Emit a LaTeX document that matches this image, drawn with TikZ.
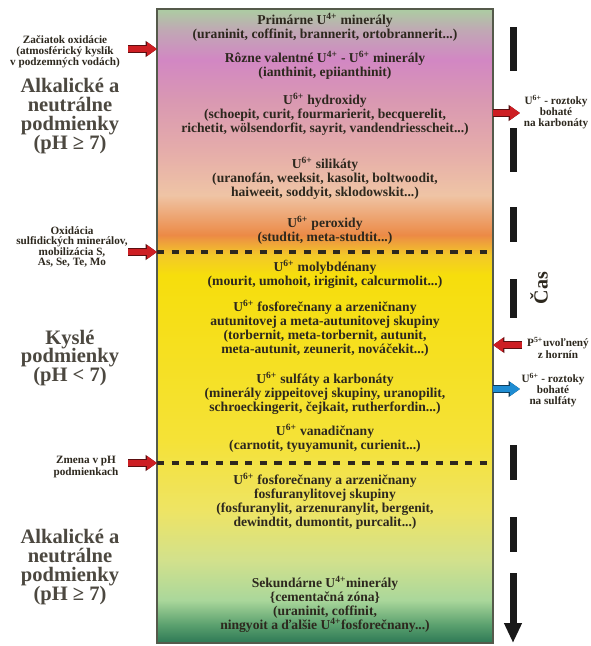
\documentclass[tikz,border=0pt]{standalone}
\usepackage{fontspec}
\setmainfont{Liberation Serif}
\usetikzlibrary{arrows.meta}

\definecolor{zoneTop}{RGB}{172, 205, 162}
\definecolor{zoneT}{RGB}{192, 168, 180}
\definecolor{zoneM}{RGB}{210, 135, 195}
\definecolor{zoneP2}{RGB}{217, 152, 178}
\definecolor{zoneP1}{RGB}{229, 172, 170}
\definecolor{zoneP0}{RGB}{239, 196, 165}
\definecolor{zoneO}{RGB}{236, 138, 70}
\definecolor{zoneY3}{RGB}{243, 200, 40}
\definecolor{zoneY2}{RGB}{246, 222, 12}
\definecolor{zoneY1}{RGB}{245, 226, 55}
\definecolor{zoneY0}{RGB}{238, 228, 100}
\definecolor{zoneG3}{RGB}{210, 225, 140}
\definecolor{zoneG2}{RGB}{170, 215, 155}
\definecolor{zoneG1}{RGB}{90, 160, 110}
\definecolor{zoneG0}{RGB}{45, 120, 85}
\definecolor{inktext}{RGB}{45, 40, 30}
\definecolor{arrowred}{RGB}{205, 30, 35}
\definecolor{arrowblue}{RGB}{30, 140, 210}
\definecolor{columnedge}{RGB}{85, 90, 75}

\pgfdeclareverticalshading{weathering}{100bp}{%
  color(0bp)=(zoneG0); color(25bp)=(zoneG0); color(26.42bp)=(zoneG1);
  color(28.39bp)=(zoneG2); color(31.55bp)=(zoneG3); color(35.49bp)=(zoneY0);
  color(41.01bp)=(zoneY1); color(54.02bp)=(zoneY2); color(55.6bp)=(zoneY3);
  color(57.18bp)=(zoneO); color(60.33bp)=(zoneP0); color(63.88bp)=(zoneP1);
  color(67.82bp)=(zoneP2); color(70.98bp)=(zoneM); color(73.34bp)=(zoneT);
  color(75bp)=(zoneTop); color(100bp)=(zoneTop)}

\newcommand\Uiv{U\textsuperscript{4+}}
\newcommand\Uvi{U\textsuperscript{6+}}
\newcommand\colfont{\fontsize{10.2}{10.5}\selectfont\bfseries}
\newcommand\notefont{\fontsize{8.4}{7.6}\selectfont\bfseries}
\newcommand\bigfont{\fontsize{15.4}{14.2}\selectfont\bfseries}

\begin{document}
\begin{tikzpicture}[x=0.75pt, y=-0.75pt,
    mintext/.style={font=\colfont, align=center, text=inktext, inner sep=0pt},
    note/.style={font=\notefont, align=center, text=inktext, inner sep=0pt},
    regime/.style={font=\bigfont, align=center, text=inktext!85, inner sep=0pt},
    fatarrow/.style={#1, line width=4.5pt, -{Triangle[width=10pt,length=7.5pt]},
      preaction={draw=#1!45!black, line width=5.5pt, -{Triangle[width=11.5pt,length=8.5pt]}}},
    zoneline/.style={line width=2.5pt, dash pattern=on 5.5pt off 5.5pt, inktext},
    timedash/.style={line width=5.25pt, black!90}]
  \useasboundingbox (0,0) rectangle (591,646);

  % Column of weathering zones
  \node[draw=columnedge, line width=1.2pt, shading=weathering,
        minimum width=252pt, minimum height=475.5pt,
        inner sep=0pt, outer sep=0pt] (col) at (325,326) {};

  % Boundaries of pH conditions
  \coordinate (oxidA) at (128,252);
  \coordinate (zmenaA) at (128,463);
  \draw[zoneline] (oxidA -| col.west) -- (oxidA -| col.east);
  \draw[zoneline] (zmenaA -| col.west) -- (zmenaA -| col.east);

  % Minerals in the column
  \node[mintext] (prim) at (325,27) {Primárne \Uiv{} minerály\\(uraninit, coffinit, brannerit, ortobrannerit...)};
  \node[mintext] (rozne) at (325,65) {Rôzne valentné \Uiv{} - \Uvi{} minerály\\(ianthinit, epiianthinit)};
  \node[mintext] (hydrox) at (325,114) {\Uvi{} hydroxidy\\(schoepit, curit, fourmarierit, becquerelit,\\richetit, wölsendorfit, sayrit, vandendriesscheit...)};
  \node[mintext] (silik) at (325,178) {\Uvi{} silikáty\\(uranofán, weeksit, kasolit, boltwoodit,\\haiweeit, soddyit, sklodowskit...)};
  \node[mintext] (perox) at (325,230) {\Uvi{} peroxidy\\(studtit, meta-studtit...)};
  \node[mintext] (molyb) at (325,274) {\Uvi{} molybdénany\\(mourit, umohoit, iriginit, calcurmolit...)};
  \node[mintext] (fosfA) at (325,328) {\Uvi{} fosforečnany a arzeničnany\\autunitovej a meta-autunitovej skupiny\\(torbernit, meta-torbernit, autunit,\\meta-autunit, zeunerit, nováčekit...)};
  \node[mintext] (sulf) at (325,393) {\Uvi{} sulfáty a karbonáty\\(minerály zippeitovej skupiny, uranopilit,\\schroeckingerit, čejkait, rutherfordin...)};
  \node[mintext] (vanad) at (325,438) {\Uvi{} vanadičnany\\(carnotit, tyuyamunit, curienit...)};
  \node[mintext] (fosfB) at (325,501) {\Uvi{} fosforečnany a arzeničnany\\fosfuranylitovej skupiny\\(fosfuranylit, arzenuranylit, bergenit,\\dewindtit, dumontit, purcalit...)};
  \node[mintext] (sekund) at (325,604) {Sekundárne \Uiv{}minerály\\\{cementačná zóna\}\\(uraninit, coffinit,\\ningyoit a ďalšie \Uiv{}fosforečnany...)};

  % Conditions on the left
  \node[note] (zac) at (65,52) {Začiatok oxidácie\\(atmosférický kyslík\\v podzemných vodách)};
  \node[regime] (alkA) at (70,116) {Alkalické a\\neutrálne\\podmienky\\(pH ≥ 7)};
  \node[note] (oxid) at (72,247) {Oxidácia\\sulfidických minerálov,\\mobilizácia S,\\As, Se, Te, Mo};
  \node[regime] (kysle) at (70,358) {Kyslé\\podmienky\\(pH < 7)};
  \node[note] (zmena) at (86,467) {Zmena v pH\\podmienkach};
  \node[regime] (alkB) at (70,567) {Alkalické a\\neutrálne\\podmienky\\(pH ≥ 7)};

  \coordinate (zacA) at (128,49);
  \draw[fatarrow=arrowred] (zacA) -- (zacA -| col.west);
  \draw[fatarrow=arrowred] (oxidA) -- (oxidA -| col.west);
  \draw[fatarrow=arrowred] (zmenaA) -- (zmenaA -| col.west);

  % Solutions on the right
  \node[note] (karb) at (556,112) {\Uvi{} - roztoky\\bohaté\\na karbonáty};
  \node[note] (pfive) at (558,348) {P\textsuperscript{5+}uvoľnený\\z hornín};
  \node[note] (sulfR) at (553,390) {\Uvi{} - roztoky\\bohaté\\na sulfáty};

  \coordinate (karbA) at (520,113);
  \coordinate (pfiveA) at (522,345);
  \coordinate (sulfA) at (520,389);
  \draw[fatarrow=arrowred] (karbA -| col.east) -- (karbA);
  \draw[fatarrow=arrowred] (pfiveA) -- (pfiveA -| col.east);
  \draw[fatarrow=arrowblue] (sulfA -| col.east) -- (sulfA);

  % Time axis
  \foreach \ya/\yb in {27/71, 128/172, 207/242, 279/318, 445/480, 517/552}
    \draw[timedash] (513,\ya) -- (513,\yb);
  \draw[timedash, -{Triangle[width=12.5pt,length=15pt]}] (513,573) -- (513,643);
  \node[font=\fontsize{15}{15}\selectfont\bfseries, rotate=90, text=inktext] (cas) at (539,288) {Čas};
\end{tikzpicture}
\end{document}
